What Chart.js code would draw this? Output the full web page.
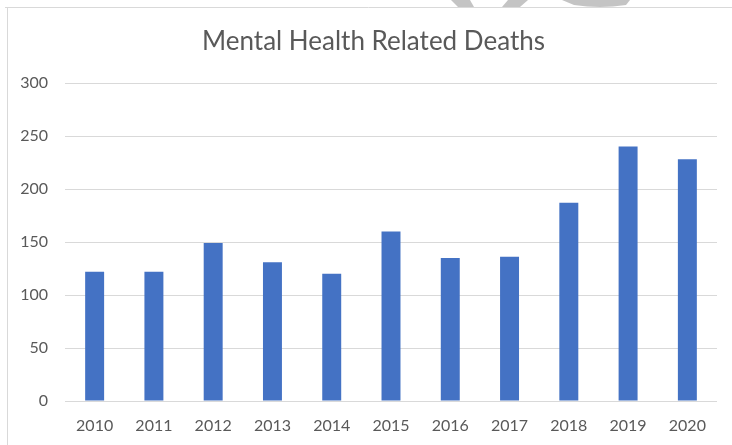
<!DOCTYPE html>
<html>
<head>
<meta charset="utf-8">
<title>Mental Health Related Deaths</title>
<script src="https://cdn.jsdelivr.net/npm/chart.js@4/dist/chart.umd.min.js"></script>
<style>
  html, body { margin: 0; padding: 0; background: #fff; }
  #wrap { position: relative; width: 732px; height: 445px; }
</style>
</head>
<body>
<div id="wrap"><canvas id="deathsChart"></canvas></div>
<script>
// chart data
const years = ['2010', '2011', '2012', '2013', '2014', '2015', '2016', '2017', '2018', '2019', '2020'];
const deaths = [122, 122, 149, 131, 120, 160, 135, 136, 187, 240, 228];
const yTicks = [0, 50, 100, 150, 200, 250, 300];

const FONT = 'Lato, "Open Sans", sans-serif';
const TEXT = '#595959';
const GRID = '#d9d9d9';

// frame lines and the grey shape peeking in at the top
const framePlugin = {
  id: 'frame',
  afterLayout(chart) {
    // title sits a bit right of the canvas centre, like the original frame
    if (chart.titleBlock) chart.titleBlock.left = 30;
  },
  beforeDraw(chart) {
    const ctx = chart.ctx;
    ctx.save();
    ctx.fillStyle = '#fff';
    ctx.fillRect(0, 0, chart.width, chart.height);

    ctx.fillStyle = '#c4c4c4';
    ctx.beginPath();
    ctx.moveTo(451, 0); ctx.lineTo(470, 0); ctx.lineTo(474, 7); ctx.lineTo(458, 7);
    ctx.closePath(); ctx.fill();
    ctx.beginPath();
    ctx.moveTo(508, 0); ctx.lineTo(528, 0); ctx.lineTo(520, 7); ctx.lineTo(502, 7);
    ctx.closePath(); ctx.fill();
    ctx.beginPath();
    ctx.moveTo(562, 0); ctx.lineTo(630, 0); ctx.lineTo(626, 5);
    ctx.quadraticCurveTo(600, 9, 574, 5);
    ctx.closePath(); ctx.fill();

    ctx.strokeStyle = '#d9d9d9';
    ctx.lineWidth = 1;
    ctx.beginPath();
    ctx.moveTo(5, 7.5); ctx.lineTo(chart.width, 7.5);
    ctx.moveTo(7.5, 7); ctx.lineTo(7.5, chart.height);
    ctx.stroke();
    ctx.restore();
  }
};

document.addEventListener('DOMContentLoaded', function() {
  const el = document.getElementById('deathsChart');
  new Chart(el, {
    type: 'bar',
    data: {
      labels: years,
      datasets: [{
        label: 'Deaths',
        data: deaths,
        backgroundColor: '#4472c4',
        borderWidth: 0,
        barPercentage: 0.4,
        categoryPercentage: 0.8
      }]
    },
    options: {
      responsive: true,
      maintainAspectRatio: false,
      animation: false,
      layout: { padding: { left: 0, right: 15, top: 0, bottom: 0 } },
      plugins: {
        legend: { display: false },
        tooltip: { enabled: false },
        title: {
          display: true,
          text: 'Mental Health Related Deaths',
          color: TEXT,
          font: { family: FONT, size: 26, weight: 'normal', lineHeight: 1.2 },
          padding: { top: 26.4, bottom: 25.4 }
        }
      },
      scales: {
        x: {
          grid: { display: false },
          border: { display: false },
          ticks: {
            color: TEXT,
            font: { family: FONT, size: 16 },
            padding: 7,
            maxRotation: 0
          },
          afterFit(scale) { scale.height = 44; }
        },
        y: {
          min: 0,
          max: 300,
          afterBuildTicks(scale) {
            scale.ticks = yTicks.map(v => ({ value: v }));
          },
          grid: { color: GRID, drawTicks: false },
          border: { display: false },
          ticks: {
            color: TEXT,
            font: { family: FONT, size: 16 },
            padding: 17
          },
          afterFit(scale) { scale.width = 65; }
        }
      }
    },
    plugins: [framePlugin]
  });
});
</script>
</body>
</html>
